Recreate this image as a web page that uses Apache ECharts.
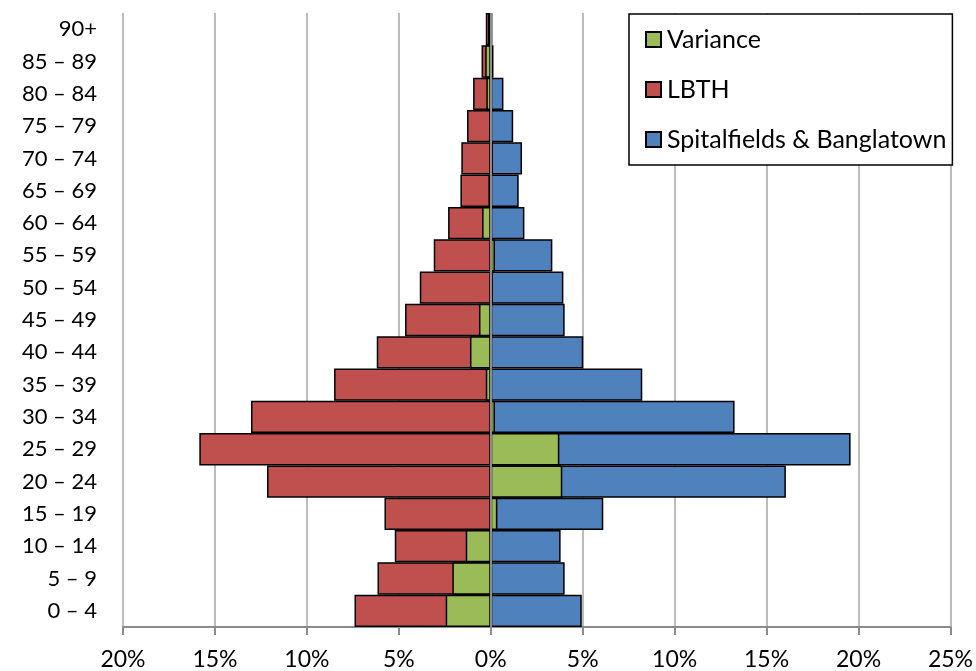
<!DOCTYPE html>
<html>
<head>
<meta charset="utf-8">
<script src="https://cdn.jsdelivr.net/npm/echarts@6/dist/echarts.min.js"></script>
<style>
  html, body { margin: 0; padding: 0; background: #fff; }
  #chart { width: 976px; height: 671px; }
</style>
</head>
<body>
<div id="chart"></div>
<script>
// age bands, bottom to top
const ages = ['0 – 4', '5 – 9', '10 – 14', '15 – 19', '20 – 24', '25 – 29', '30 – 34', '35 – 39', '40 – 44',
  '45 – 49', '50 – 54', '55 – 59', '60 – 64', '65 – 69', '70 – 74', '75 – 79', '80 – 84', '85 – 89', '90+']

// % of population (LBTH drawn on the left side)
const lbth = [7.41, 6.16, 5.22, 5.78, 12.17, 15.85, 13.04, 8.52, 6.2, 4.66, 3.86, 3.1, 2.32, 1.65, 1.6, 1.29, 0.96, 0.5, 0.27]
const spitalfields = [4.95, 4.02, 3.8, 6.12, 16.05, 19.57, 13.26, 8.24, 5.03, 4.02, 3.95, 3.35, 1.83, 1.52, 1.7, 1.22, 0.69, 0.15, 0.09]
const variance = [-2.45, -2.09, -1.36, 0.36, 3.89, 3.73, 0.23, -0.27, -1.13, -0.64, 0.12, 0.23, -0.47, -0.13, 0.12, -0.07, -0.24, -0.3, -0.15]

const xTicks = { min: -20, max: 25, step: 5 }

const font = 'Lato, "Open Sans", sans-serif'
const barBorder = { borderColor: '#000', borderWidth: 1.5 }

const chart = echarts.init(document.getElementById('chart'))

const option = {
  animation: false,
  backgroundColor: '#fff',
  textStyle: { fontFamily: font },
  grid: { left: 123, right: 25, top: 13, bottom: 44 },
  legend: {
    orient: 'vertical',
    left: 629,
    top: 14,
    padding: [13, 6, 13, 16],
    itemGap: 25,
    itemWidth: 15,
    itemHeight: 15,
    icon: 'rect',
    borderColor: '#000',
    borderWidth: 1.5,
    backgroundColor: '#fff',
    data: ['Variance', 'LBTH', 'Spitalfields & Banglatown'],
    textStyle: { fontFamily: font, fontSize: 25, color: '#000', padding: [0, 0, 0, 1] }
  },
  xAxis: {
    type: 'value',
    min: xTicks.min,
    max: xTicks.max,
    interval: xTicks.step,
    axisLine: { show: true, onZero: false, lineStyle: { color: '#8c8c8c', width: 2 } },
    axisTick: { show: true, length: 8, lineStyle: { color: '#8c8c8c', width: 2 } },
    axisLabel: {
      margin: 21,
      fontSize: 23,
      color: '#000',
      fontFamily: font,
      formatter: v => Math.abs(v) + '%'
    },
    splitLine: { show: true, lineStyle: { color: '#a6a6a6', width: 1.5 } }
  },
  yAxis: {
    type: 'category',
    data: ages,
    axisLine: { show: false },
    axisTick: { show: false },
    axisLabel: { margin: 26, fontSize: 22, color: '#000', fontFamily: font }
  },
  series: [
    {
      name: 'LBTH',
      type: 'bar',
      barGap: '-100%',
      barCategoryGap: '0%',
      data: lbth.map(v => -v),
      itemStyle: Object.assign({ color: '#C0504D' }, barBorder)
    },
    {
      name: 'Spitalfields & Banglatown',
      type: 'bar',
      barGap: '-100%',
      barCategoryGap: '0%',
      data: spitalfields,
      itemStyle: Object.assign({ color: '#4F81BD' }, barBorder)
    },
    {
      name: 'Variance',
      type: 'bar',
      barGap: '-100%',
      barCategoryGap: '0%',
      z: 3,
      data: variance,
      itemStyle: Object.assign({ color: '#9BBB59' }, barBorder),
      markLine: {
        silent: true,
        symbol: ['none', 'none'],
        label: { show: false },
        lineStyle: { color: '#8c8c8c', width: 2, type: 'solid' },
        data: [{ xAxis: 0 }]
      }
    }
  ]
}

chart.setOption(option)
</script>
</body>
</html>
